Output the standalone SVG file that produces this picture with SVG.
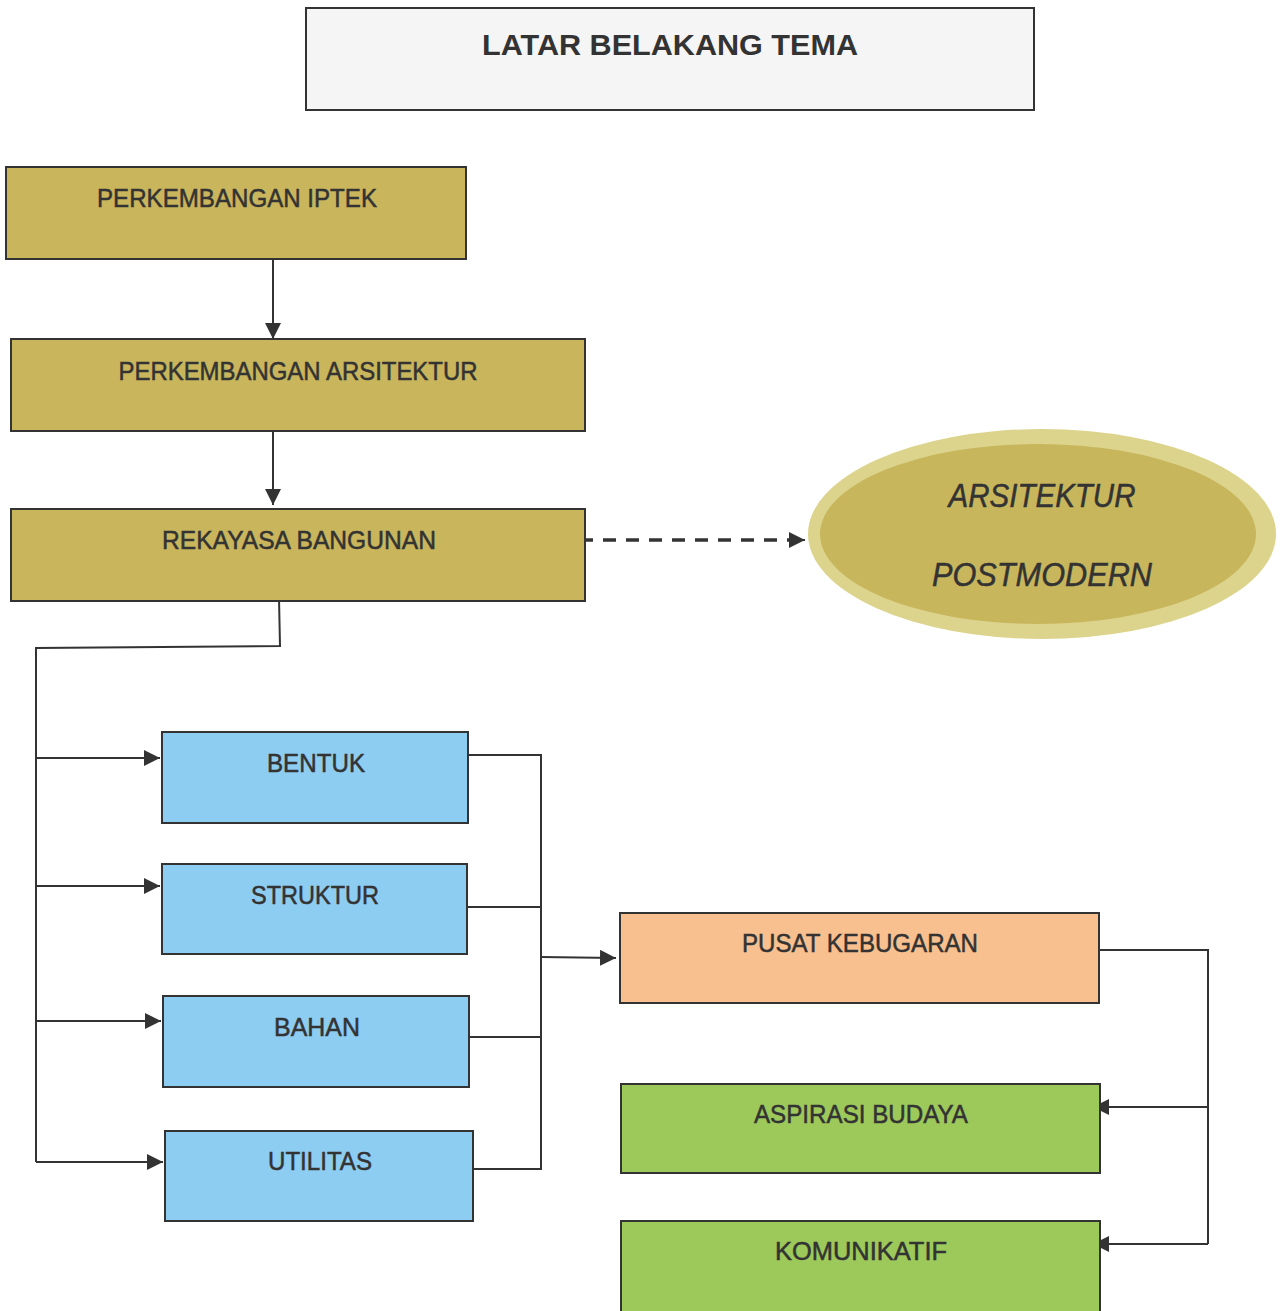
<svg xmlns="http://www.w3.org/2000/svg" width="1283" height="1311" viewBox="0 0 1283 1311">
<style>
.box{stroke:#333;stroke-width:2}
.gold{fill:#c9b55c}
.blue{fill:#8ecdf2}
.peach{fill:#f9c08f}
.green{fill:#9dc95b}
.lbl{font-family:"Liberation Sans",Arial,sans-serif;font-size:25px;fill:#333;stroke:#333;stroke-width:0.5;text-anchor:middle}
.ttl{font-family:"Liberation Sans",Arial,sans-serif;font-size:30px;font-weight:bold;fill:#333;text-anchor:middle}
.ell{font-family:"Liberation Sans",Arial,sans-serif;font-size:33px;font-style:italic;fill:#333;stroke:#333;stroke-width:0.5;text-anchor:middle}
.con{fill:none;stroke:#333;stroke-width:2}
.dash{fill:none;stroke:#333;stroke-width:3.5;stroke-dasharray:13 10}
</style>
<defs>
<marker id="ahb" viewBox="0 0 10 10" refX="10" refY="5" markerWidth="16" markerHeight="16" markerUnits="userSpaceOnUse" orient="auto">
<path d="M0,0 L10,5 L0,10 z" fill="#333"/>
</marker>
</defs>
<rect width="1283" height="1311" fill="#fff"/>

<g id="title">
<rect x="306" y="8" width="728" height="102" fill="#f5f5f5" class="box"/>
<text x="670" y="55" class="ttl" textLength="376" lengthAdjust="spacingAndGlyphs">LATAR BELAKANG TEMA</text>
</g>

<g id="connectors">
<line x1="273" y1="259" x2="273" y2="339" class="con" marker-end="url(#ahb)"/>
<line x1="273" y1="425" x2="273" y2="505" class="con" marker-end="url(#ahb)"/>
<line x1="580" y1="540" x2="792" y2="540" class="dash"/>
<line x1="790" y1="540" x2="805" y2="540" class="con" marker-end="url(#ahb)"/>
<polyline points="279,598 280,646 36,648 36,1162" class="con"/>
<line x1="36" y1="758" x2="160" y2="758" class="con" marker-end="url(#ahb)"/>
<line x1="36" y1="886" x2="160" y2="886" class="con" marker-end="url(#ahb)"/>
<line x1="36" y1="1021" x2="161" y2="1021" class="con" marker-end="url(#ahb)"/>
<line x1="36" y1="1162" x2="163" y2="1162" class="con" marker-end="url(#ahb)"/>
<polyline points="466,755 541,755 541,1169 465,1169" class="con"/>
<line x1="465" y1="907" x2="541" y2="907" class="con"/>
<line x1="467" y1="1037" x2="541" y2="1037" class="con"/>
<line x1="541" y1="957" x2="616" y2="958" class="con" marker-end="url(#ahb)"/>
<polyline points="1094,950 1208,950 1208,1244" class="con"/>
<line x1="1208" y1="1107" x2="1093" y2="1107" class="con" marker-end="url(#ahb)"/>
<line x1="1208" y1="1244" x2="1093" y2="1244" class="con" marker-end="url(#ahb)"/>
</g>

<g id="iptek">
<rect x="6" y="167" width="460" height="92" class="box gold"/>
<text x="237" y="207" class="lbl" textLength="280" lengthAdjust="spacingAndGlyphs">PERKEMBANGAN IPTEK</text>
</g>
<g id="arsitektur">
<rect x="11" y="339" width="574" height="92" class="box gold"/>
<text x="298" y="380" class="lbl" textLength="359" lengthAdjust="spacingAndGlyphs">PERKEMBANGAN ARSITEKTUR</text>
</g>
<g id="rekayasa">
<rect x="11" y="509" width="574" height="92" class="box gold"/>
<text x="299" y="549" class="lbl" textLength="274" lengthAdjust="spacingAndGlyphs">REKAYASA BANGUNAN</text>
</g>

<g id="postmodern">
<ellipse cx="1042" cy="534" rx="234" ry="105" fill="#dcd48c"/>
<ellipse cx="1038" cy="534" rx="218" ry="90" fill="#c8b65d"/>
<text x="1042" y="507" class="ell" textLength="187" lengthAdjust="spacingAndGlyphs">ARSITEKTUR</text>
<text x="1042" y="586" class="ell" textLength="220" lengthAdjust="spacingAndGlyphs">POSTMODERN</text>
</g>

<g id="bentuk">
<rect x="162" y="732" width="306" height="91" class="box blue"/>
<text x="316" y="772" class="lbl" textLength="98" lengthAdjust="spacingAndGlyphs">BENTUK</text>
</g>
<g id="struktur">
<rect x="162" y="864" width="305" height="90" class="box blue"/>
<text x="315" y="904" class="lbl" textLength="128" lengthAdjust="spacingAndGlyphs">STRUKTUR</text>
</g>
<g id="bahan">
<rect x="163" y="996" width="306" height="91" class="box blue"/>
<text x="317" y="1036" class="lbl" textLength="86" lengthAdjust="spacingAndGlyphs">BAHAN</text>
</g>
<g id="utilitas">
<rect x="165" y="1131" width="308" height="90" class="box blue"/>
<text x="320" y="1170" class="lbl" textLength="104" lengthAdjust="spacingAndGlyphs">UTILITAS</text>
</g>

<g id="pusat">
<rect x="620" y="913" width="479" height="90" class="box peach"/>
<text x="860" y="952" class="lbl" textLength="236" lengthAdjust="spacingAndGlyphs">PUSAT KEBUGARAN</text>
</g>
<g id="aspirasi">
<rect x="621" y="1084" width="479" height="89" class="box green"/>
<text x="861" y="1123" class="lbl" textLength="214" lengthAdjust="spacingAndGlyphs">ASPIRASI BUDAYA</text>
</g>
<g id="komunikatif">
<rect x="621" y="1221" width="479" height="95" class="box green"/>
<text x="861" y="1260" class="lbl" textLength="172" lengthAdjust="spacingAndGlyphs">KOMUNIKATIF</text>
</g>
</svg>
